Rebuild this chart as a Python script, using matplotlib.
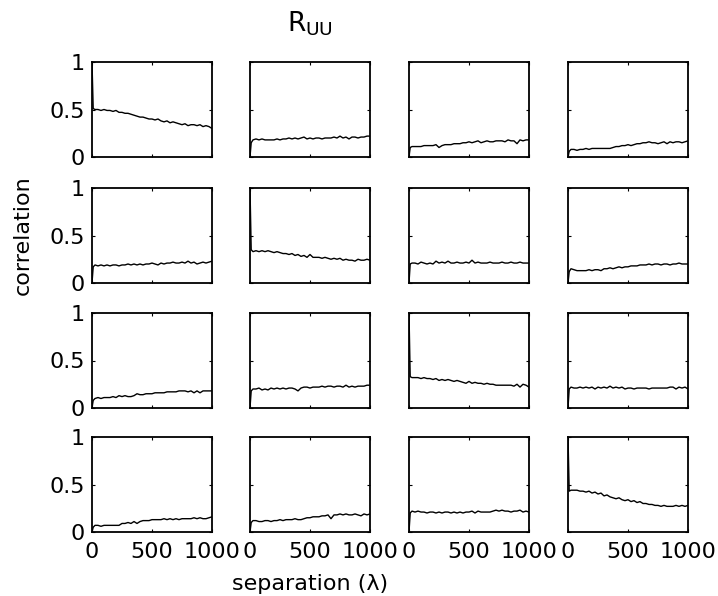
import matplotlib
matplotlib.use('Agg')
import matplotlib.pyplot as plt

# ---------------- data ----------------
separation = [0, 10] + list(range(25, 1001, 25))
x_ticks = [0, 500, 1000]
x_tick_labels = ['0', '500', '1000']
y_ticks = [0, 0.5, 1]
y_tick_labels = ['0', '0.5', '1']
title_text = r'R$_{\mathrm{UU}}$'
xlabel_text = 'separation (λ)'
ylabel_text = 'correlation'

r11 = [1.00, 0.51, 0.50, 0.50, 0.49, 0.50, 0.49,
       0.49, 0.48, 0.49, 0.47, 0.47, 0.46, 0.46,
       0.45, 0.44, 0.43, 0.42, 0.42, 0.41, 0.40,
       0.40, 0.39, 0.40, 0.38, 0.37, 0.38, 0.36,
       0.37, 0.36, 0.35, 0.34, 0.35, 0.33, 0.34,
       0.34, 0.33, 0.34, 0.32, 0.33, 0.32, 0.30]
r12 = [0.00, 0.15, 0.18, 0.19, 0.18, 0.19, 0.18,
       0.18, 0.18, 0.18, 0.19, 0.18, 0.19, 0.19,
       0.20, 0.19, 0.20, 0.19, 0.20, 0.21, 0.19,
       0.20, 0.19, 0.20, 0.20, 0.19, 0.20, 0.20,
       0.20, 0.21, 0.20, 0.22, 0.20, 0.21, 0.19,
       0.21, 0.21, 0.20, 0.21, 0.21, 0.22, 0.22]
r13 = [0.00, 0.10, 0.11, 0.11, 0.11, 0.11, 0.12,
       0.12, 0.12, 0.12, 0.13, 0.10, 0.12, 0.13,
       0.13, 0.13, 0.14, 0.14, 0.14, 0.15, 0.15,
       0.16, 0.15, 0.16, 0.17, 0.15, 0.16, 0.17,
       0.16, 0.16, 0.17, 0.17, 0.17, 0.16, 0.18,
       0.17, 0.17, 0.14, 0.18, 0.17, 0.18, 0.18]
r14 = [0.00, 0.06, 0.08, 0.08, 0.07, 0.08, 0.08,
       0.09, 0.08, 0.09, 0.09, 0.09, 0.09, 0.09,
       0.09, 0.09, 0.10, 0.11, 0.11, 0.12, 0.12,
       0.13, 0.12, 0.13, 0.14, 0.14, 0.15, 0.15,
       0.16, 0.15, 0.15, 0.14, 0.15, 0.16, 0.14,
       0.16, 0.15, 0.16, 0.16, 0.15, 0.16, 0.17]
r21 = [0.00, 0.17, 0.19, 0.18, 0.19, 0.18, 0.19,
       0.18, 0.19, 0.19, 0.18, 0.19, 0.19, 0.20,
       0.19, 0.20, 0.19, 0.20, 0.19, 0.20, 0.20,
       0.21, 0.20, 0.19, 0.21, 0.20, 0.21, 0.21,
       0.22, 0.21, 0.21, 0.22, 0.21, 0.23, 0.21,
       0.22, 0.20, 0.21, 0.22, 0.21, 0.22, 0.23]
r22 = [1.00, 0.35, 0.33, 0.34, 0.33, 0.34, 0.33,
       0.34, 0.33, 0.32, 0.33, 0.32, 0.31, 0.31,
       0.30, 0.31, 0.29, 0.30, 0.28, 0.29, 0.27,
       0.30, 0.27, 0.27, 0.27, 0.26, 0.27, 0.26,
       0.25, 0.26, 0.25, 0.26, 0.24, 0.25, 0.24,
       0.24, 0.23, 0.25, 0.24, 0.24, 0.25, 0.24]
r23 = [0.00, 0.20, 0.21, 0.21, 0.20, 0.22, 0.21,
       0.20, 0.21, 0.20, 0.23, 0.21, 0.22, 0.21,
       0.23, 0.21, 0.21, 0.22, 0.21, 0.21, 0.22,
       0.21, 0.24, 0.21, 0.22, 0.21, 0.21, 0.21,
       0.22, 0.21, 0.21, 0.21, 0.22, 0.21, 0.21,
       0.22, 0.21, 0.21, 0.22, 0.21, 0.21, 0.21]
r24 = [0.00, 0.12, 0.15, 0.14, 0.13, 0.13, 0.13,
       0.13, 0.14, 0.13, 0.14, 0.14, 0.13, 0.15,
       0.15, 0.16, 0.15, 0.16, 0.17, 0.16, 0.17,
       0.17, 0.18, 0.18, 0.18, 0.19, 0.19, 0.19,
       0.20, 0.19, 0.20, 0.20, 0.19, 0.20, 0.20,
       0.19, 0.20, 0.20, 0.21, 0.20, 0.20, 0.20]
r31 = [0.00, 0.08, 0.10, 0.11, 0.10, 0.11, 0.11,
       0.11, 0.12, 0.11, 0.13, 0.12, 0.13, 0.12,
       0.12, 0.13, 0.15, 0.14, 0.14, 0.15, 0.15,
       0.15, 0.16, 0.16, 0.16, 0.16, 0.17, 0.17,
       0.17, 0.17, 0.18, 0.18, 0.18, 0.17, 0.18,
       0.16, 0.18, 0.16, 0.18, 0.18, 0.18, 0.18]
r32 = [0.00, 0.18, 0.20, 0.20, 0.21, 0.19, 0.20,
       0.19, 0.21, 0.20, 0.21, 0.20, 0.21, 0.20,
       0.21, 0.21, 0.20, 0.18, 0.21, 0.22, 0.22,
       0.21, 0.22, 0.22, 0.22, 0.23, 0.22, 0.23,
       0.23, 0.22, 0.23, 0.23, 0.22, 0.24, 0.22,
       0.23, 0.22, 0.23, 0.23, 0.23, 0.24, 0.24]
r33 = [1.00, 0.33, 0.32, 0.32, 0.32, 0.31, 0.32,
       0.31, 0.31, 0.30, 0.31, 0.29, 0.30, 0.29,
       0.30, 0.29, 0.28, 0.29, 0.28, 0.27, 0.26,
       0.28, 0.26, 0.27, 0.26, 0.26, 0.25, 0.26,
       0.25, 0.25, 0.24, 0.24, 0.24, 0.24, 0.24,
       0.24, 0.23, 0.25, 0.22, 0.25, 0.24, 0.22]
r34 = [0.00, 0.20, 0.22, 0.21, 0.21, 0.22, 0.21,
       0.22, 0.21, 0.22, 0.20, 0.22, 0.21, 0.22,
       0.21, 0.23, 0.21, 0.22, 0.21, 0.22, 0.20,
       0.21, 0.21, 0.20, 0.21, 0.21, 0.21, 0.21,
       0.20, 0.21, 0.21, 0.21, 0.21, 0.21, 0.21,
       0.22, 0.22, 0.20, 0.22, 0.21, 0.22, 0.20]
r41 = [0.00, 0.05, 0.07, 0.07, 0.06, 0.07, 0.07,
       0.07, 0.07, 0.07, 0.07, 0.09, 0.09, 0.10,
       0.09, 0.11, 0.09, 0.11, 0.12, 0.12, 0.12,
       0.13, 0.13, 0.13, 0.13, 0.14, 0.13, 0.14,
       0.13, 0.14, 0.13, 0.14, 0.14, 0.14, 0.14,
       0.15, 0.14, 0.15, 0.14, 0.14, 0.15, 0.16]
r42 = [0.00, 0.10, 0.12, 0.12, 0.11, 0.11, 0.12,
       0.12, 0.11, 0.12, 0.12, 0.13, 0.12, 0.13,
       0.13, 0.13, 0.14, 0.13, 0.13, 0.14, 0.15,
       0.15, 0.16, 0.16, 0.16, 0.17, 0.17, 0.18,
       0.14, 0.18, 0.18, 0.19, 0.18, 0.19, 0.18,
       0.18, 0.19, 0.18, 0.17, 0.19, 0.18, 0.19]
r43 = [0.00, 0.20, 0.22, 0.21, 0.22, 0.21, 0.21,
       0.20, 0.21, 0.21, 0.20, 0.21, 0.20, 0.21,
       0.21, 0.20, 0.21, 0.20, 0.21, 0.20, 0.21,
       0.21, 0.22, 0.20, 0.22, 0.21, 0.21, 0.21,
       0.21, 0.22, 0.23, 0.22, 0.23, 0.22, 0.22,
       0.21, 0.22, 0.22, 0.23, 0.21, 0.22, 0.21]
r44 = [1.00, 0.43, 0.44, 0.44, 0.44, 0.43, 0.43,
       0.42, 0.43, 0.41, 0.42, 0.40, 0.41, 0.38,
       0.39, 0.37, 0.36, 0.35, 0.36, 0.34, 0.33,
       0.34, 0.32, 0.33, 0.31, 0.32, 0.30, 0.30,
       0.29, 0.29, 0.28, 0.28, 0.27, 0.28, 0.27,
       0.27, 0.27, 0.28, 0.27, 0.28, 0.27, 0.28]

series = [[r11, r12, r13, r14],
          [r21, r22, r23, r24],
          [r31, r32, r33, r34],
          [r41, r42, r43, r44]]

# ---------------- figure ----------------
plt.rcParams['font.family'] = ['DejaVu Sans']
plt.rcParams['mathtext.fontset'] = 'dejavusans'

W, H = 718, 596
fig = plt.figure(figsize=(W / 100, H / 100), dpi=100)
fig.patch.set_facecolor('white')

col_left = [92, 250, 409, 568]
row_top = [62, 188, 313, 437]
aw, ah = 120, 95
fs = 16

axes = [[None] * 4 for _ in range(4)]
for i in range(4):
    for j in range(4):
        ax = fig.add_axes([col_left[j] / W, 1 - (row_top[i] + ah) / H, aw / W, ah / H])
        axes[i][j] = ax
        ax.plot(separation, series[i][j], color='black', lw=1.0)
        ax.set_xlim(0, 1000)
        ax.set_ylim(0, 1)
        ax.set_xticks(x_ticks)
        ax.set_yticks(y_ticks)
        ax.tick_params(direction='in', length=2.5, width=0.8, top=True, right=True,
                       labelsize=fs, colors='black')
        ax.tick_params(axis='x', pad=7)
        ax.tick_params(axis='y', pad=5)
        for s in ax.spines.values():
            s.set_linewidth(1.3)
            s.set_color('black')
        if j == 0:
            ax.set_yticklabels(y_tick_labels)
        else:
            ax.set_yticklabels([])
        if i == 3:
            ax.set_xticklabels(x_tick_labels)
        else:
            ax.set_xticklabels([])

axes[0][1].text(0.5, 1 + 30 / ah, title_text, transform=axes[0][1].transAxes,
                ha='center', va='baseline', fontsize=19)
axes[1][0].set_ylabel(ylabel_text, fontsize=fs)
axes[1][0].yaxis.set_label_coords((33 - col_left[0]) / aw, 0.5)
axes[3][1].set_xlabel(xlabel_text, fontsize=fs)
axes[3][1].xaxis.set_label_coords(0.5, -(574 - (row_top[3] + ah)) / ah)

fig.savefig('out.png', dpi=100, facecolor='white')
